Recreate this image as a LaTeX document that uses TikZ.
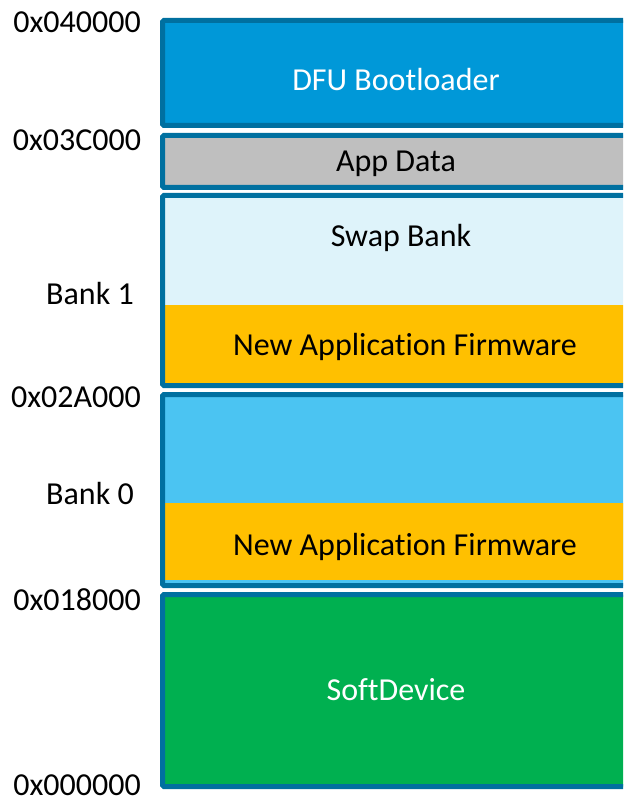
\documentclass[tikz,border=0pt]{standalone}
\usepackage{fontspec}
\setmainfont{Carlito}[Ligatures=NoCommon]
\definecolor{bordc}{RGB}{0,112,160}
\definecolor{dfuc}{RGB}{0,152,216}
\definecolor{grayc}{RGB}{191,191,191}
\definecolor{swapc}{RGB}{222,243,250}
\definecolor{orangec}{RGB}{255,192,0}
\definecolor{lbluec}{RGB}{75,196,242}
\definecolor{greenc}{RGB}{0,176,80}
\begin{document}
\begin{tikzpicture}[x=1pt,y=-1pt,
  blk/.style={draw=bordc,line width=5pt,rounded corners=1.5pt},
  lbl/.style={font=\fontsize{32}{36}\selectfont,inner sep=0pt,anchor=center},
  addr/.style={font=\fontsize{32}{36}\selectfont,inner sep=0pt,anchor=center}]
\useasboundingbox (0,0) rectangle (623,802);
\begin{scope}
\clip (0,0) rectangle (623,802);
% blocks
\draw[blk,fill=dfuc] (162.5,20.5) rectangle (640,125.5);
\draw[blk,fill=grayc] (162.5,135.5) rectangle (640,187.5);
\fill[swapc] (162.5,195.5) rectangle (640,385.5);
\fill[orangec] (165,305) rectangle (640,384);
\draw[blk] (162.5,195.5) rectangle (640,385.5);
\fill[lbluec] (162.5,394.5) rectangle (640,585.5);
\fill[orangec] (165,503) rectangle (640,580);
\draw[blk] (162.5,394.5) rectangle (640,585.5);
\draw[blk,fill=greenc] (162.5,594.5) rectangle (640,786.5);
\end{scope}
% labels
\node[lbl,text=white] (dfu) at (396,80) {DFU Bootloader};
\node[lbl] (appdata) at (396,164) {App Data};
\node[lbl] (swap) at (401,238) {Swap Bank};
\node[lbl] (new1) at (405,347) {New Application Firmware};
\node[lbl] (new0) at (405,547) {New Application Firmware};
\node[lbl,text=white] (sd) at (396,690) {SoftDevice};
% addresses
\node[addr] (a4) at (77,22) {0x040000};
\node[addr] (a3c) at (77,140) {0x03C000};
\node[addr] (b1) at (90,294) {Bank 1};
\node[addr] (a2a) at (76,397) {0x02A000};
\node[addr] (b0) at (90,494) {Bank 0};
\node[addr] (a18) at (77,600) {0x018000};
\node[addr] (a0) at (77,785) {0x000000};
\end{tikzpicture}
\end{document}
